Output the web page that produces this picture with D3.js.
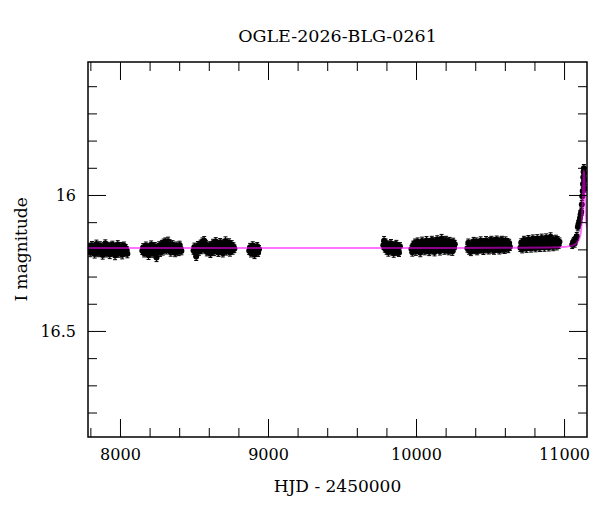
<!DOCTYPE html>
<html>
<head>
<meta charset="utf-8">
<script src="https://cdn.jsdelivr.net/npm/d3@7.9.0/dist/d3.min.js"></script>
<style>
  body { margin: 0; background: #fff; }
  text { font-family: "DejaVu Serif", serif; fill: #000; }
</style>
</head>
<body>
<svg id="chart" width="600" height="512"></svg>
<script>
// photometry, one array per observing season: [HJD-2450000, I mag, error]
const season1 = [[7787,16.201,.014],[7793,16.190,.013],[7799,16.212,.015],[7805,16.196,.014],[7811,16.185,.014],[7817,16.207,.014],[7823,16.199,.013],[7829,16.217,.015],[7835,16.191,.014],[7841,16.180,.014],[7847,16.204,.014],[7853,16.213,.014],[7859,16.195,.013],[7865,16.186,.014],[7871,16.209,.015],[7877,16.198,.014],[7883,16.221,.015],[7889,16.190,.014],[7895,16.203,.014],[7901,16.178,.013],[7907,16.214,.014],[7913,16.197,.014],[7919,16.206,.014],[7925,16.188,.014],[7931,16.219,.015],[7937,16.194,.014],[7943,16.202,.014],[7949,16.183,.013],[7955,16.210,.014],[7961,16.199,.014],[7967,16.223,.015],[7973,16.191,.014],[7979,16.205,.014],[7985,16.182,.014],[7991,16.215,.014],[7997,16.196,.014],[8003,16.208,.014],[8009,16.189,.014],[8015,16.220,.015],[8021,16.200,.014],[8027,16.187,.014],[8033,16.211,.014],[8039,16.196,.014],[8045,16.204,.014],[8050,16.216,.015]];
const season2 = [[8151,16.205,.014],[8157,16.193,.014],[8163,16.214,.014],[8169,16.199,.014],[8175,16.187,.014],[8181,16.210,.014],[8187,16.201,.014],[8193,16.222,.015],[8199,16.192,.014],[8205,16.206,.014],[8211,16.183,.014],[8217,16.215,.014],[8223,16.197,.014],[8229,16.208,.014],[8235,16.189,.014],[8241,16.219,.014],[8247,16.230,.015],[8253,16.195,.014],[8259,16.204,.014],[8265,16.186,.014],[8271,16.212,.014],[8277,16.199,.014],[8283,16.181,.014],[8289,16.207,.014],[8295,16.176,.014],[8301,16.193,.014],[8307,16.172,.014],[8313,16.203,.014],[8319,16.185,.014],[8325,16.170,.015],[8331,16.198,.014],[8337,16.179,.014],[8343,16.211,.014],[8349,16.190,.014],[8355,16.182,.014],[8361,16.204,.014],[8367,16.195,.014],[8373,16.213,.014],[8379,16.187,.014],[8385,16.201,.014],[8391,16.192,.014],[8397,16.209,.014],[8403,16.184,.014],[8409,16.198,.014],[8415,16.206,.014]];
const season3 = [[8497,16.204,.014],[8503,16.191,.014],[8509,16.213,.014],[8515,16.226,.015],[8521,16.197,.014],[8527,16.185,.014],[8533,16.208,.014],[8539,16.193,.014],[8545,16.180,.014],[8551,16.202,.014],[8557,16.172,.014],[8563,16.189,.014],[8569,16.168,.015],[8575,16.199,.014],[8581,16.181,.014],[8587,16.210,.014],[8593,16.194,.014],[8599,16.205,.014],[8605,16.186,.014],[8611,16.216,.014],[8617,16.192,.014],[8623,16.201,.014],[8629,16.177,.014],[8635,16.209,.014],[8641,16.190,.014],[8647,16.171,.014],[8653,16.198,.014],[8659,16.184,.014],[8665,16.212,.014],[8671,16.195,.014],[8677,16.174,.014],[8683,16.203,.014],[8689,16.188,.014],[8695,16.214,.014],[8701,16.179,.014],[8707,16.196,.014],[8713,16.169,.015],[8719,16.207,.014],[8725,16.186,.014],[8731,16.200,.014],[8737,16.175,.014],[8743,16.211,.014],[8749,16.193,.014],[8755,16.182,.014],[8761,16.204,.014],[8767,16.190,.014],[8773,16.198,.014]];
const season4 = [[8873,16.205,.014],[8879,16.192,.014],[8885,16.214,.014],[8891,16.198,.014],[8897,16.186,.014],[8903,16.209,.014],[8909,16.220,.014],[8915,16.195,.014],[8921,16.203,.014],[8927,16.189,.014],[8933,16.212,.014],[8939,16.200,.014]];
const season5 = [[9779,16.185,.014],[9784,16.168,.015],[9789,16.196,.014],[9795,16.176,.014],[9801,16.204,.014],[9807,16.188,.014],[9813,16.211,.014],[9819,16.183,.014],[9825,16.197,.014],[9831,16.178,.014],[9837,16.207,.014],[9843,16.190,.014],[9849,16.215,.014],[9855,16.186,.014],[9861,16.200,.014],[9867,16.181,.014],[9873,16.209,.014],[9879,16.194,.014],[9885,16.212,.014],[9891,16.189,.014]];
const season6 = [[9969,16.199,.014],[9975,16.211,.014],[9981,16.184,.014],[9987,16.202,.014],[9993,16.176,.014],[9999,16.208,.014],[10005,16.190,.014],[10011,16.172,.014],[10017,16.198,.014],[10023,16.183,.014],[10029,16.212,.015],[10035,16.189,.014],[10041,16.169,.014],[10047,16.196,.014],[10053,16.180,.014],[10059,16.206,.014],[10065,16.186,.014],[10071,16.167,.014],[10077,16.201,.014],[10083,16.178,.014],[10089,16.209,.014],[10095,16.174,.014],[10101,16.192,.014],[10107,16.166,.014],[10113,16.203,.014],[10119,16.181,.014],[10125,16.210,.014],[10131,16.171,.014],[10137,16.194,.014],[10143,16.164,.014],[10149,16.199,.014],[10155,16.177,.014],[10161,16.207,.014],[10167,16.185,.014],[10173,16.160,.015],[10179,16.195,.014],[10185,16.168,.014],[10191,16.204,.014],[10197,16.182,.014],[10203,16.166,.014],[10209,16.200,.014],[10215,16.175,.014],[10221,16.206,.014],[10227,16.170,.014],[10233,16.197,.014],[10239,16.184,.014],[10245,16.208,.014],[10251,16.173,.014],[10257,16.195,.014],[10262,16.181,.014]];
const season7 = [[10347,16.196,.014],[10353,16.176,.014],[10359,16.204,.014],[10365,16.184,.014],[10371,16.209,.014],[10377,16.180,.014],[10383,16.198,.014],[10389,16.170,.014],[10395,16.202,.014],[10401,16.186,.014],[10407,16.172,.014],[10413,16.206,.014],[10419,16.189,.014],[10425,16.177,.014],[10431,16.200,.014],[10437,16.168,.014],[10443,16.197,.014],[10449,16.183,.014],[10455,16.205,.014],[10461,16.174,.014],[10467,16.193,.014],[10473,16.167,.014],[10479,16.199,.014],[10485,16.180,.014],[10491,16.203,.014],[10497,16.171,.014],[10503,16.192,.014],[10509,16.166,.014],[10515,16.200,.014],[10521,16.179,.014],[10527,16.204,.014],[10533,16.170,.014],[10539,16.191,.014],[10545,16.165,.014],[10551,16.198,.014],[10557,16.178,.014],[10563,16.203,.014],[10569,16.169,.014],[10575,16.190,.014],[10581,16.166,.014],[10587,16.199,.014],[10593,16.175,.014],[10599,16.201,.014],[10605,16.168,.014],[10611,16.192,.014],[10617,16.174,.014],[10623,16.198,.014],[10629,16.177,.014],[10634,16.190,.014]];
const season8 = [[10705,16.194,.014],[10711,16.175,.014],[10717,16.199,.014],[10723,16.181,.014],[10729,16.166,.014],[10735,16.192,.014],[10741,16.172,.014],[10747,16.197,.014],[10753,16.178,.014],[10759,16.163,.014],[10765,16.190,.014],[10771,16.170,.014],[10777,16.196,.014],[10783,16.176,.014],[10789,16.161,.014],[10795,16.189,.014],[10801,16.168,.014],[10807,16.195,.014],[10813,16.174,.014],[10819,16.160,.014],[10825,16.188,.014],[10831,16.167,.014],[10837,16.194,.014],[10843,16.173,.014],[10849,16.158,.014],[10855,16.186,.014],[10861,16.166,.014],[10867,16.193,.014],[10873,16.171,.014],[10879,16.157,.014],[10885,16.185,.014],[10891,16.165,.014],[10897,16.192,.014],[10903,16.170,.014],[10909,16.154,.015],[10915,16.184,.014],[10921,16.164,.014],[10927,16.191,.014],[10933,16.169,.014],[10939,16.180,.014],[10945,16.162,.014],[10951,16.188,.014],[10957,16.167,.014],[10963,16.183,.014],[10969,16.172,.014]];
const season9 = [[11055,16.183,.014],[11061,16.176,.014],[11066,16.170,.014],[11071,16.178,.014],[11076,16.166,.014],[11081,16.160,.014],[11086,16.152,.014],[11093,16.118,.014],[11098,16.108,.014],[11103,16.097,.014],[11108,16.085,.014],[11112,16.072,.014],[11116,16.062,.014],[11120,16.035,.014],[11123,16.005,.014],[11126,15.985,.014],[11128,15.960,.014],[11130,15.935,.014],[11132,15.915,.014],[11134,15.902,.014],[11136,15.920,.014],[11138,15.945,.014],[11140,15.975,.014]];

// microlensing model curve
const modelT = [7784, 9000, 10000, 10600, 10900, 11000, 11040, 11070, 11090, 11105, 11115, 11122, 11127, 11131, 11134, 11137, 11141, 11146, 11150, 11155];
const modelI = [16.195, 16.195, 16.195, 16.194, 16.193, 16.191, 16.188, 16.183, 16.174, 16.158, 16.130, 16.080, 16.010, 15.940, 15.910, 15.935, 16.000, 16.060, 16.095, 16.120];

const xMajor = [8000, 9000, 10000, 11000];
const yMajor = [16, 16.5];

const width = 600, height = 512;
const margin = { top: 62, right: 13, bottom: 75, left: 88 };
const innerW = width - margin.left - margin.right;
const innerH = height - margin.top - margin.bottom;

const svg = d3.select('#chart');
const g = svg.append('g').attr('transform', `translate(${margin.left},${margin.top})`);

const x = d3.scaleLinear().domain([7784, 11155]).range([0, innerW]);
const y = d3.scaleLinear().domain([15.511, 16.89]).range([0, innerH]);

const data = [season1, season2, season3, season4, season5, season6, season7, season8, season9].flat();

// clip to the frame
g.append('clipPath').attr('id', 'clip')
  .append('rect').attr('width', innerW).attr('height', innerH);
const plot = g.append('g').attr('clip-path', 'url(#clip)');

// error bars
const cap = 2;
const bars = plot.append('g').attr('stroke', '#000').attr('stroke-width', 1);
data.forEach(([t, m, e]) => {
  const px = x(t);
  bars.append('line').attr('x1', px).attr('x2', px).attr('y1', y(m - e)).attr('y2', y(m + e));
  bars.append('line').attr('x1', px - cap).attr('x2', px + cap).attr('y1', y(m - e)).attr('y2', y(m - e));
  bars.append('line').attr('x1', px - cap).attr('x2', px + cap).attr('y1', y(m + e)).attr('y2', y(m + e));
});

// points
plot.append('g').selectAll('circle')
  .data(data)
  .join('circle')
  .attr('cx', d => x(d[0]))
  .attr('cy', d => y(d[1]))
  .attr('r', 3)
  .attr('fill', '#000');

// model
const model = modelT.map((t, i) => [t, modelI[i]]);
plot.append('path')
  .datum(model)
  .attr('fill', 'none')
  .attr('stroke', '#ff00ff')
  .attr('stroke-opacity', 0.55)
  .attr('stroke-width', 2)
  .attr('d', d3.line().x(d => x(d[0])).y(d => y(d[1])).curve(d3.curveMonotoneX));

// ticks on all four sides, pointing inward
const xMinor = d3.range(7800, 11155, 200).filter(v => !xMajor.includes(v));
const yMinor = d3.range(15.6, 16.89, 0.1).map(v => +v.toFixed(1)).filter(v => !yMajor.includes(v));

const sides = [
  [d3.axisBottom, x, `translate(0,${innerH})`, xMajor, xMinor, true],
  [d3.axisTop, x, 'translate(0,0)', xMajor, xMinor, false],
  [d3.axisLeft, y, 'translate(0,0)', yMajor, yMinor, true],
  [d3.axisRight, y, `translate(${innerW},0)`, yMajor, yMinor, false]
];
sides.forEach(([axisFn, scale, tr, maj, min, lab]) => {
  const gMaj = g.append('g').attr('transform', tr)
    .call(axisFn(scale).tickValues(maj).tickSize(-18).tickPadding(12)
      .tickFormat(lab ? d3.format('') : ''));
  const gMin = g.append('g').attr('transform', tr)
    .call(axisFn(scale).tickValues(min).tickSize(-9).tickFormat(''));
  [gMaj, gMin].forEach(s => {
    s.select('.domain').remove();
    s.selectAll('line').attr('stroke', '#000').attr('stroke-width', 1);
    s.selectAll('text').attr('font-size', 16).attr('font-family', '"DejaVu Serif", serif');
  });
});

// frame
g.append('rect')
  .attr('width', innerW).attr('height', innerH)
  .attr('fill', 'none').attr('stroke', '#000').attr('stroke-width', 1.5);

// titles
svg.append('text')
  .attr('x', margin.left + innerW / 2).attr('y', 42)
  .attr('text-anchor', 'middle').attr('font-size', 17.5)
  .text('OGLE-2026-BLG-0261');

svg.append('text')
  .attr('x', margin.left + innerW / 2).attr('y', 492)
  .attr('text-anchor', 'middle').attr('font-size', 17)
  .text('HJD - 2450000');

svg.append('text')
  .attr('transform', `translate(27,${margin.top + y(16.2)})rotate(-90)`)
  .attr('text-anchor', 'middle').attr('font-size', 17)
  .text('I magnitude');
</script>
</body>
</html>
